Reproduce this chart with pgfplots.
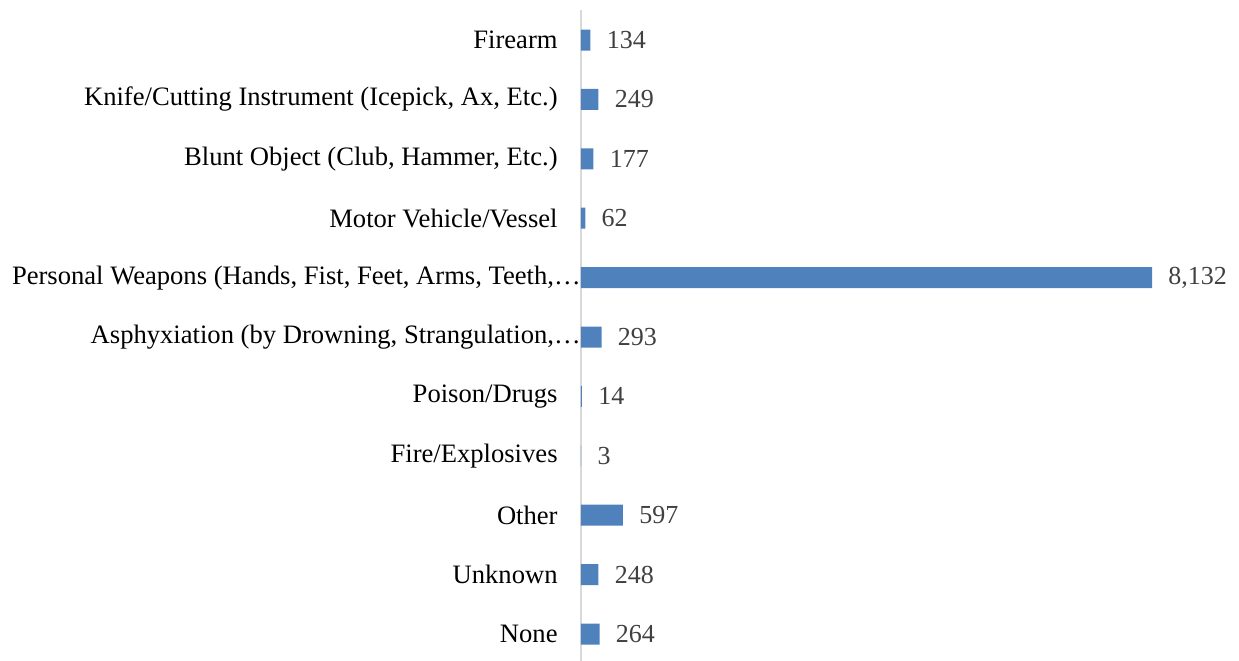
\documentclass[border=0pt]{standalone}
\usepackage{pgfplots}
\pgfplotsset{compat=1.18}
\usepackage{fontspec}
\setmainfont{Liberation Serif}
\definecolor{barblue}{RGB}{79,129,189}
\definecolor{axgray}{RGB}{217,217,217}
\definecolor{lblgray}{RGB}{64,64,64}
\begin{document}
\begin{tikzpicture}
\begin{axis}[
  xbar, scale only axis,
  width=316pt, height=326.7pt,
  xmin=0, xmax=9000, ymin=-0.5, ymax=10.5, y dir=reverse,
  ytick={0,...,10},
  yticklabels={Firearm,
    {Knife/Cutting Instrument (Icepick, Ax, Etc.)},
    {Blunt Object (Club, Hammer, Etc.)},
    Motor Vehicle/Vessel,
    {Personal Weapons (Hands, Fist, Feet, Arms, Teeth,…\kern-11.5pt},
    {Asphyxiation (by Drowning, Strangulation,…\kern-11.5pt},
    Poison/Drugs,
    Fire/Explosives,
    Other,
    Unknown,
    None},
  axis x line=none, axis y line=left,
  axis line style={draw=axgray, line width=1pt, -},
  major tick length=0pt,
  yticklabel style={font=\fontsize{13.3}{15}\selectfont, text=black, inner xsep=11.5pt},
  bar width=10.5pt,
  point meta=x,
  nodes near coords={\pgfmathprintnumber[assume math mode=true,1000 sep={,}]{\pgfplotspointmeta}},
  nodes near coords style={font=\fontsize{13}{15}\selectfont, text=lblgray, inner xsep=8pt},
  clip=false,
]
\addplot[fill=barblue, draw=none] coordinates {
  (134,0) (249,1) (177,2) (62,3) (8132,4) (293,5) (14,6) (3,7) (597,8) (248,9) (264,10)
};
\end{axis}
\pgfresetboundingbox
\path[use as bounding box] ([xshift=-290.5pt,yshift=1.85pt]current axis.south west) rectangle ++(619.5pt,330pt);
\end{tikzpicture}
\end{document}
